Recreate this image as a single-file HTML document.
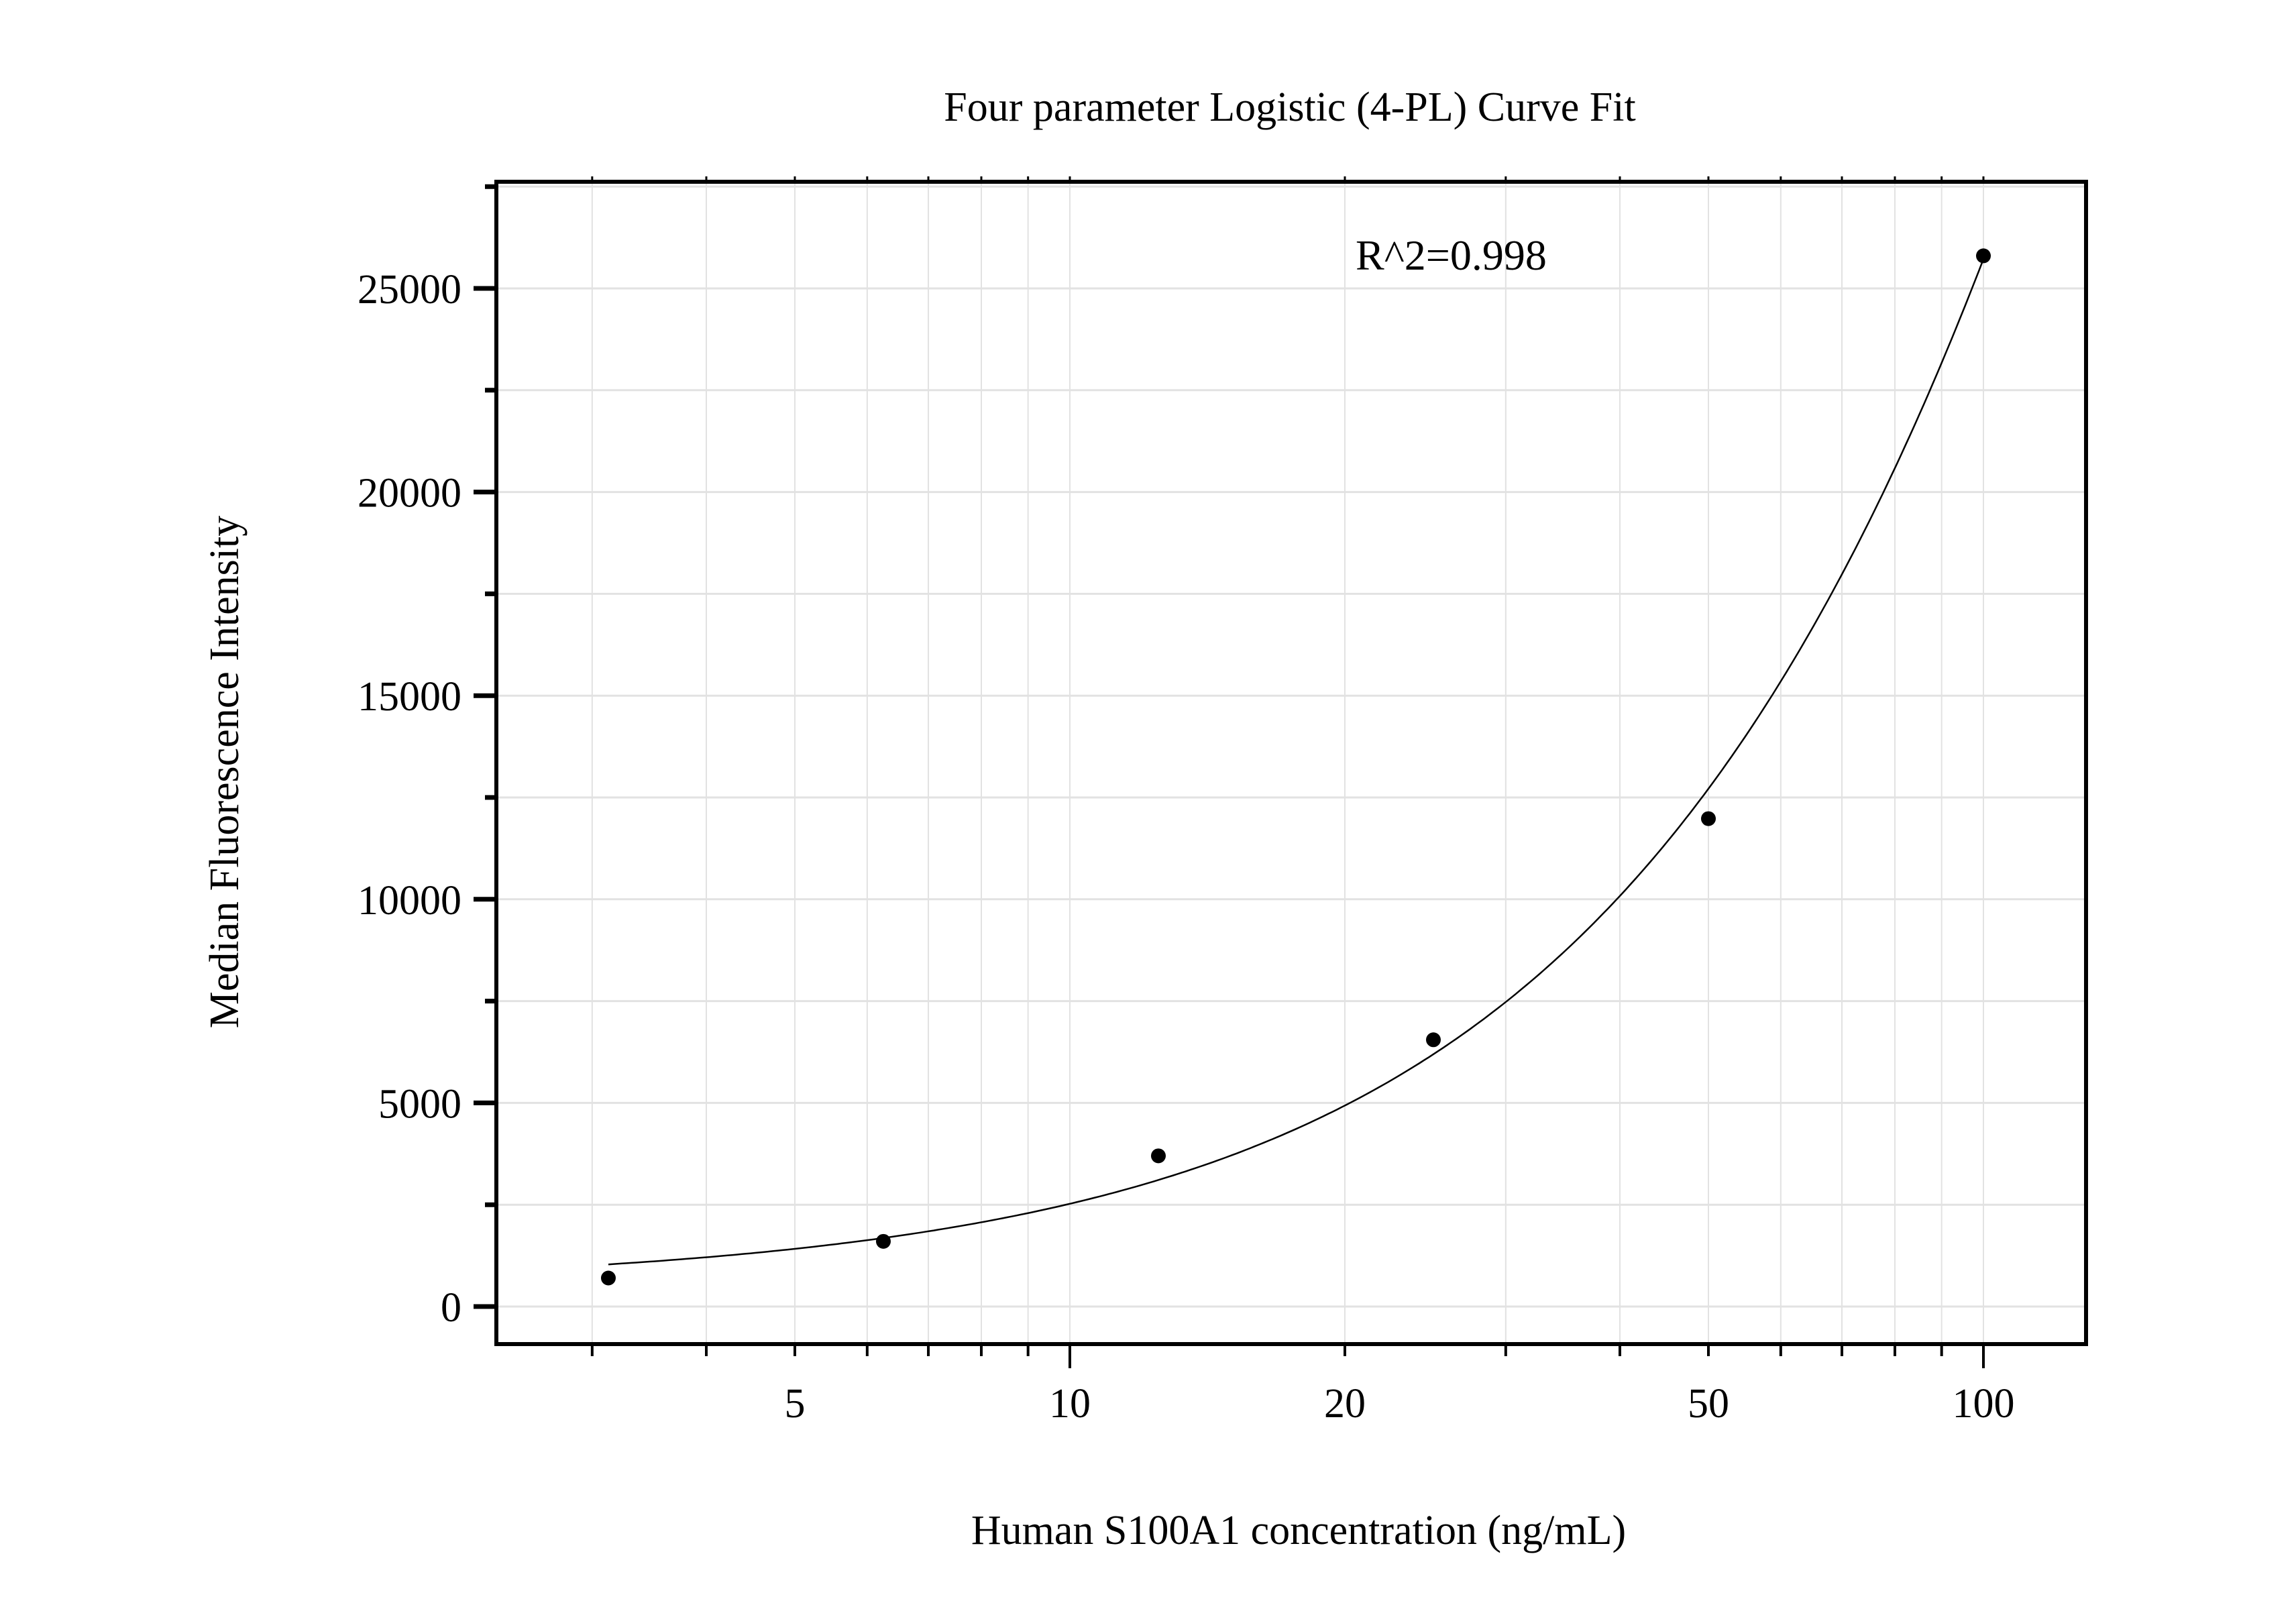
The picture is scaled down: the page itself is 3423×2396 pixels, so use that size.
<!DOCTYPE html>
<html><head><meta charset="utf-8"><style>
html,body{margin:0;padding:0;background:#fff;}
svg text{font-family:"Liberation Serif",serif;fill:#000;}
</style></head><body>
<svg id="chart" width="3423" height="2391" viewBox="0 0 3423 2391" xmlns="http://www.w3.org/2000/svg">
<rect width="3423" height="2391" fill="#fff"/>
<g id="grid"></g>
<g id="axes"></g>
<g id="series"></g>
<text x="1923" y="180" font-size="62" text-anchor="middle">Four parameter Logistic (4-PL) Curve Fit</text>
<text x="2021" y="402" font-size="64">R^2=0.998</text>
<text transform="translate(355,1151) rotate(-90)" font-size="62" text-anchor="middle">Median Fluorescence Intensity</text>
<text x="1936" y="2302" font-size="62" text-anchor="middle">Human S100A1 concentration (ng/mL)</text>
</svg>
<script>
const concentrations = [3.125, 6.25, 12.5, 25, 50, 100];
const mfiValues = [700, 1600, 3700, 6550, 11980, 25800];
const fitParams = [500, 1.15, 537, 200000]; // A, B, C, D
const xTickLabels = [5, 10, 20, 50, 100];
const yTickLabels = [0, 5000, 10000, 15000, 20000, 25000];

const NS = 'http://www.w3.org/2000/svg';
const L = 740, R = 3110, T = 271, B = 2004;
const xDecadePx = 1362, x10 = 1595;
const y0 = 1948, yPer = 303.6 / 5000;
function xs(v){ return x10 + (Math.log10(v) - 1) * xDecadePx; }
function ys(v){ return y0 - v * yPer; }
function mk(tag, attrs, parent){ const e = document.createElementNS(NS, tag); for (const k in attrs) e.setAttribute(k, attrs[k]); parent.appendChild(e); return e; }
const grid = document.getElementById('grid'), axes = document.getElementById('axes'), series = document.getElementById('series');

// minor x positions
const xMinor = [];
for (let d = 1; d <= 100; d *= 10) for (let m = 1; m <= 9; m++) { const v = m * d; if (xs(v) > L && xs(v) < R) xMinor.push(v); }
xMinor.forEach(v => {
  const g = mk('line', {x1: xs(v), x2: xs(v), y1: T, y2: B, stroke: '#e2e2e2', 'stroke-width': 2}, grid);
  
  
  const major = (v === 10 || v === 100);
  const t = mk('line', {x1: xs(v), x2: xs(v), y1: B, y2: B + (major ? 36 : 18), stroke: '#000', 'stroke-width': 4}, axes);
  
  
  const tt = mk('line', {x1: xs(v), x2: xs(v), y1: T, y2: T - 8, stroke: '#000', 'stroke-width': 3}, axes);
  
  
});
for (let v = 0; v <= 27500; v += 2500) {
  const y = ys(v);
  if (y < T) continue;
  const g = mk('line', {x1: L, x2: R, y1: y, y2: y, stroke: '#e2e2e2', 'stroke-width': 3}, grid);
  
  
  const major = v % 5000 === 0;
  const t = mk('line', {x1: L - (major ? 34 : 17), x2: L, y1: y, y2: y, stroke: '#000', 'stroke-width': 7}, axes);
  
  
}
xTickLabels.forEach(v => {
  const t = mk('text', {x: xs(v), y: 2113, 'font-size': 62, 'text-anchor': 'middle'}, axes);
  t.textContent = v;
  
  
});
yTickLabels.forEach(v => {
  const t = mk('text', {x: 688, y: ys(v) + 22, 'font-size': 62, 'text-anchor': 'end'}, axes);
  t.textContent = v;
  
  
});
const frame = mk('rect', {x: L, y: T, width: R - L, height: B - T, fill: 'none', stroke: '#000', 'stroke-width': 6}, axes);



// curve
function fourPL(x){ const [A, Bp, C, D] = fitParams; return D + (A - D) / (1 + Math.pow(x / C, Bp)); }
let d = '';
const lo = Math.log10(concentrations[0]), hi = Math.log10(concentrations[concentrations.length - 1]);
for (let i = 0; i <= 300; i++) {
  const x = Math.pow(10, lo + (hi - lo) * i / 300);
  d += (i ? 'L' : 'M') + xs(x).toFixed(1) + ' ' + ys(fourPL(x)).toFixed(1);
}
const curve = mk('path', {d: d, fill: 'none', stroke: '#000', 'stroke-width': 2.5}, series);


concentrations.forEach((c, i) => {
  const p = mk('circle', {cx: xs(c), cy: ys(mfiValues[i]), r: 11, fill: '#000'}, series);
  
  
});
</script>
</body></html>
